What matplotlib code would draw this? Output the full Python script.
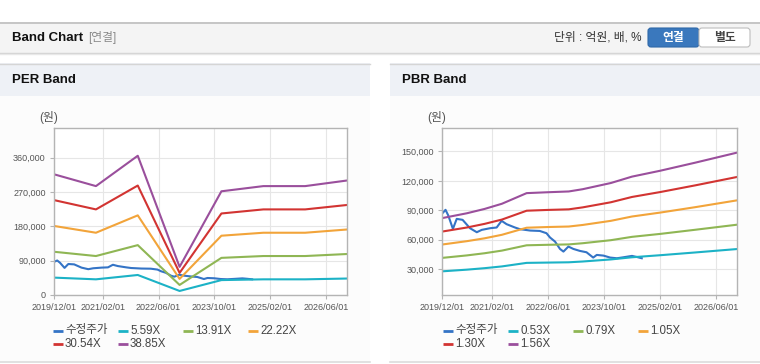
import matplotlib
matplotlib.use('Agg')
import matplotlib.pyplot as plt
import matplotlib.dates as mdates
from matplotlib.patches import Rectangle, FancyBboxPatch
from matplotlib.ticker import FuncFormatter
import pandas as pd

plt.rcParams['font.family'] = ['Liberation Sans', 'Noto Sans CJK KR']

# ---- data ----
price_dates = ['2019-12-02', '2019-12-29', '2020-01-22', '2020-03-02', '2020-04-04',
               '2020-05-25', '2020-07-28', '2020-09-25', '2020-11-07', '2021-01-19',
               '2021-03-16', '2021-04-28', '2021-06-10', '2021-08-22', '2021-10-04',
               '2022-01-01', '2022-03-25', '2022-05-22', '2022-06-22', '2022-08-04',
               '2022-09-16', '2022-10-16', '2022-11-28', '2023-01-10', '2023-03-07',
               '2023-05-04', '2023-07-01', '2023-08-01', '2023-09-28', '2023-11-25',
               '2024-01-22', '2024-03-19', '2024-06-01', '2024-07-13', '2024-08-25']
price = [87000, 90500, 84700, 71100, 81300, 80300, 71800, 67700, 70100, 71800,
         72500, 79300, 75900, 72500, 70800, 69400, 69000, 66700, 62300, 58200,
         50700, 48000, 53100, 50700, 48700, 47300, 41900, 44600, 43900, 41900,
         41200, 42200, 43600, 42500, 41200]

per_dates = ['2019-12-01', '2020-12-01', '2021-12-01', '2022-12-01',
             '2023-12-01', '2024-12-01', '2025-12-01', '2026-12-01']
per_labels = ['5.59X', '13.91X', '22.22X', '30.54X', '38.85X']
per_559 = [45600, 41100, 52500, 10600, 39100, 41100, 41100, 43200]
per_1391 = [113400, 102200, 130800, 26400, 97400, 102200, 102200, 107500]
per_2222 = [181100, 163300, 208900, 42200, 155500, 163300, 163300, 171800]
per_3054 = [248900, 224500, 287100, 58000, 213800, 224500, 224500, 236100]
per_3885 = [316600, 285600, 365200, 73800, 272000, 285600, 285600, 300300]

pbr_dates = ['2019-12-01', '2020-07-01', '2020-12-01', '2021-05-01', '2021-12-01',
             '2022-06-01', '2022-12-01', '2023-04-01', '2023-12-01', '2024-06-01',
             '2025-02-01', '2025-12-01', '2026-12-01']
pbr_labels = ['0.53X', '0.79X', '1.05X', '1.30X', '1.56X']
pbr_053 = [27900, 29600, 31100, 32900, 36500, 36800, 37100, 37900, 40000, 42200, 44300, 47100, 50600]
pbr_079 = [41600, 44100, 46300, 49000, 54400, 54900, 55300, 56500, 59600, 63000, 66000, 70200, 75400]
pbr_105 = [55200, 58600, 61500, 65100, 72300, 73000, 73500, 75100, 79300, 83700, 87700, 93200, 100200]
pbr_130 = [68400, 72500, 76200, 80600, 89600, 90400, 91000, 93000, 98200, 103600, 108600, 115400, 124000]
pbr_156 = [82100, 87000, 91400, 96700, 107500, 108400, 109200, 111500, 117800, 124300, 130300, 138500, 148800]

price_label = '수정주가'
tick_dates = ['2019-12-01', '2021-02-01', '2022-06-01', '2023-10-01', '2025-02-01', '2026-06-01']
colors = ['#3474c6', '#1cb2c6', '#8fb654', '#f2a43a', '#d23432', '#9a4f9c']

# ---- figure / page chrome (pixel coordinates) ----
fig = plt.figure(figsize=(7.6, 3.64), dpi=100, facecolor='white')
bg = fig.add_axes([0, 0, 1, 1], zorder=0)
bg.set_xlim(0, 760)
bg.set_ylim(364, 0)
bg.axis('off')

bg.add_patch(Rectangle((0, 22), 760, 30.5, fc='#f4f4f4', ec='none'))
bg.plot([0, 760], [22.5, 22.5], color='#bdbdbd', lw=1.2)
bg.plot([0, 760], [52.5, 52.5], color='#d2d2d2', lw=1)
bg.plot([0, 760], [53.5, 53.5], color='#e8e8e8', lw=1)
bg.text(12, 38, 'Band Chart', fontsize=9.5, fontweight='bold', va='center', color='#111')
bg.text(88, 38, '[연결]', fontsize=8.5, va='center', color='#8a8a8a')
bg.text(642, 38, '단위 : 억원, 배, %', fontsize=8.5, va='center', ha='right', color='#333')
bg.add_patch(FancyBboxPatch((648, 28), 51, 19, boxstyle='round,pad=0,rounding_size=3',
                            fc='#3a78bd', ec='#2f68a8', lw=0.8))
bg.add_patch(FancyBboxPatch((699, 28), 51, 19, boxstyle='round,pad=0,rounding_size=3',
                            fc='white', ec='#bdbdbd', lw=0.8))
bg.text(673.5, 38, '연결', fontsize=8.5, fontweight='bold', color='white', ha='center', va='center')
bg.text(724.5, 38, '별도', fontsize=8.5, fontweight='bold', color='#444', ha='center', va='center')

for px, title in [(0, 'PER Band'), (390, 'PBR Band')]:
    bg.add_patch(Rectangle((px, 63), 370, 300, fc='#fcfcfc', ec='none'))
    bg.add_patch(Rectangle((px, 63), 370, 33, fc='#eef1f6', ec='none'))
    bg.plot([px, px + 370], [63.5, 63.5], color='#d5d5d5', lw=1)
    bg.plot([px, px + 370], [362, 362], color='#dcdcdc', lw=1.2)
    bg.text(px + 12, 80, title, fontsize=9.5, fontweight='bold', va='center', color='#111')


def style_axis(ax, yticks, ylim):
    ax.set_facecolor('white')
    ax.set_xlim(pd.Timestamp('2019-12-01'), pd.Timestamp('2026-12-01'))
    ax.set_xticks(pd.to_datetime(tick_dates))
    ax.xaxis.set_major_formatter(mdates.DateFormatter('%Y/%m/%d'))
    ax.set_yticks(yticks)
    ax.set_ylim(*ylim)
    ax.yaxis.set_major_formatter(FuncFormatter(lambda v, p: f'{int(v):,}'))
    ax.grid(True, color='#e6e6e6', lw=0.8)
    ax.set_axisbelow(True)
    for s in ax.spines.values():
        s.set_color('#b4b4b4')
        s.set_linewidth(1)
    ax.tick_params(length=3, width=0.8, color='#b4b4b4', labelcolor='#555555',
                   labelsize=6.5, pad=3)


def draw_legend(x0, labels):
    for i, (lab, c) in enumerate(zip(labels, colors)):
        col, row = i % 4, i // 4
        x = x0 + col * 65
        y = 330.5 + row * 13.5
        bg.plot([x, x + 10.5], [y, y], color=c, lw=2, solid_capstyle='butt')
        bg.text(x + 12.5, y, lab, fontsize=8.3, va='center', color='#444')


# ---- PER band ----
axL = fig.add_axes([54 / 760, 69 / 364, 293 / 760, 167 / 364], zorder=2)
axL.plot(pd.to_datetime(price_dates), price, color=colors[0], lw=1.5)
for vals, c in zip([per_559, per_1391, per_2222, per_3054, per_3885], colors[1:]):
    axL.plot(pd.to_datetime(per_dates), vals, color=c, lw=1.5)
style_axis(axL, [0, 90000, 180000, 270000, 360000], (0, 438000))
bg.text(49, 118, '(원)', fontsize=8.5, ha='center', va='center', color='#555')
draw_legend(52.5, [price_label] + per_labels)

# ---- PBR band ----
axR = fig.add_axes([442.3 / 760, 69 / 364, 295 / 760, 167 / 364], zorder=2)
axR.plot(pd.to_datetime(price_dates), price, color=colors[0], lw=1.5)
for vals, c in zip([pbr_053, pbr_079, pbr_105, pbr_130, pbr_156], colors[1:]):
    axR.plot(pd.to_datetime(pbr_dates), vals, color=c, lw=1.5)
style_axis(axR, [30000, 60000, 90000, 120000, 150000], (3800, 173800))
bg.text(437, 118, '(원)', fontsize=8.5, ha='center', va='center', color='#555')
draw_legend(442.7, [price_label] + pbr_labels)

fig.savefig('out.png', dpi=100, facecolor='white')
